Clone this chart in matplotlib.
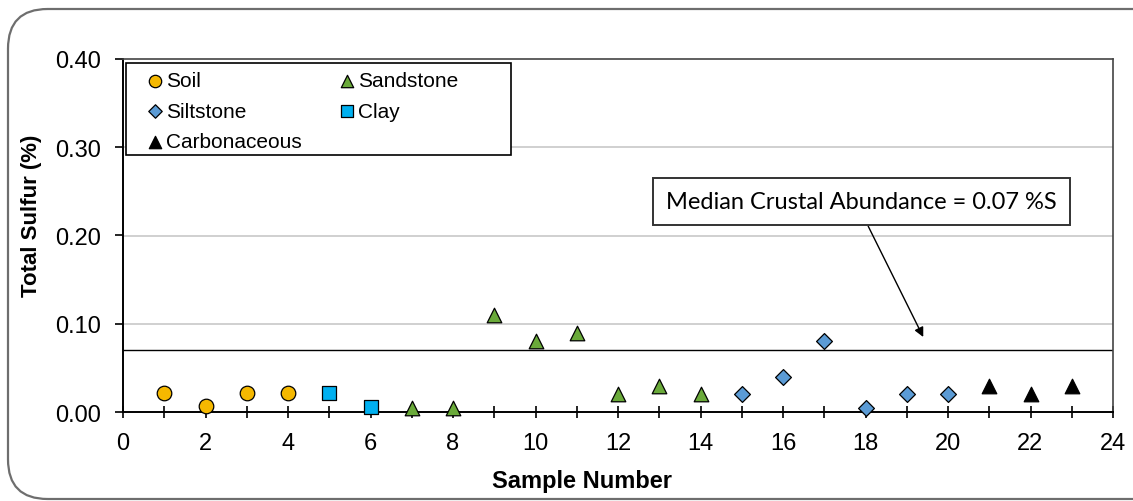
import numpy as np
import matplotlib.pyplot as plt
from matplotlib.patches import FancyBboxPatch, Rectangle
from matplotlib.ticker import MultipleLocator

plt.rcParams['font.family'] = ['Liberation Sans', 'DejaVu Sans']

# total sulfur (%) by sample number, grouped by lithology
soil_x = [1, 2, 3, 4]
soil_y = [0.022, 0.007, 0.022, 0.022]
clay_x = [5, 6]
clay_y = [0.022, 0.006]
sand_x = [7, 8, 9, 10, 11, 12, 13, 14]
sand_y = [0.005, 0.005, 0.11, 0.08, 0.09, 0.02, 0.03, 0.02]
silt_x = [15, 16, 17, 18, 19, 20]
silt_y = [0.02, 0.04, 0.08, 0.005, 0.02, 0.02]
carb_x = [21, 22, 23]
carb_y = [0.03, 0.02, 0.03]
median_s = 0.07

W, H = 1133, 502
fig = plt.figure(figsize=(W / 100, H / 100), dpi=100)

# rounded outer frame
frame = FancyBboxPatch((8 / W, 2 / H), 1.2, (H - 12) / H,
                       boxstyle="round,pad=0,rounding_size=0.035",
                       transform=fig.transFigure, fill=False,
                       edgecolor='#6e6e6e', linewidth=1.6, mutation_aspect=W / H)
fig.patches.append(frame)

ax = fig.add_axes([123 / W, 1 - 413 / H, (1113 - 123) / W, (413 - 60) / H])

for v in [0.1, 0.2, 0.3]:
    ax.axhline(v, color='#c8c8c8', lw=1.2, zorder=0)
ax.axhline(median_s, color='black', lw=1.0, zorder=1)

mk = dict(s=110, edgecolors='black', linewidths=0.9, zorder=3, clip_on=False)
h_soil = ax.scatter(soil_x, soil_y, marker='o', color='#f5b800', label='Soil', **mk)
h_sand = ax.scatter(sand_x, sand_y, marker='^', color='#6aaa3a', label='Sandstone', **mk)
h_silt = ax.scatter(silt_x, silt_y, marker='D', color='#5b9bd5', label='Siltstone',
                    **dict(mk, s=65))
h_clay = ax.scatter(clay_x, clay_y, marker='s', color='#00b0f0', label='Clay',
                    **dict(mk, s=95))
h_carb = ax.scatter(carb_x, carb_y, marker='^', color='black', label='Carbonaceous', **mk)

ax.set_xlim(0, 24)
ax.set_ylim(0, 0.40)
ax.xaxis.set_major_locator(MultipleLocator(2))
ax.xaxis.set_minor_locator(MultipleLocator(1))
ax.yaxis.set_major_locator(MultipleLocator(0.1))
ax.yaxis.set_major_formatter(plt.FuncFormatter(lambda v, p: '%.2f' % v))
ax.tick_params(axis='x', which='both', direction='inout', length=9, width=1.2,
               labelsize=17, pad=10)
ax.tick_params(axis='y', direction='out', length=6, width=1.2, labelsize=17, pad=10)
for side in ['left', 'bottom']:
    ax.spines[side].set_linewidth(1.4)
for side in ['top', 'right']:
    ax.spines[side].set_linewidth(1.2)
    ax.spines[side].set_color('#444444')

ax.set_xlabel('Sample Number', fontsize=17, fontweight='bold')
ax.set_ylabel('Total Sulfur (%)', fontsize=16, fontweight='bold')
ax.xaxis.set_label_coords(0.4636, -0.162)
ax.yaxis.set_label_coords(-0.082, 0.558)

# column-wise fill so rows read Soil/Sandstone, Siltstone/Clay, Carbonaceous
handles = [h_soil, h_silt, h_carb, h_sand, h_clay]
leg = ax.legend(handles, [h.get_label() for h in handles],
                loc='upper left', bbox_to_anchor=(0.0, 1.01), ncol=2,
                fontsize=15, frameon=False,
                handletextpad=-0.3, columnspacing=1.4, borderpad=0.25,
                labelspacing=0.55, handlelength=1.6, markerscale=0.85)
# legend box drawn wider than its entries
ax.add_patch(Rectangle((0.003, (413 - 156) / 353), (511 - 126) / 990, 92 / 353,
                       transform=ax.transAxes, fill=True, fc='white',
                       ec='black', lw=1.2, zorder=4))
leg.set_zorder(5)

ax.annotate('Median Crustal Abundance = 0.07 %S', xy=(19.4, 0.085),
            xytext=(17.9, 0.238), ha='center', va='center',
            fontsize=17, family=['Lato', 'DejaVu Sans'],
            bbox=dict(boxstyle='square,pad=0.55', fc='white', ec='#333333', lw=1.4),
            arrowprops=dict(arrowstyle='-|>', color='black', lw=1.0,
                            mutation_scale=14, shrinkA=0, shrinkB=0,
                            relpos=(0.5, 0)))

fig.savefig('out.png', dpi=100)
